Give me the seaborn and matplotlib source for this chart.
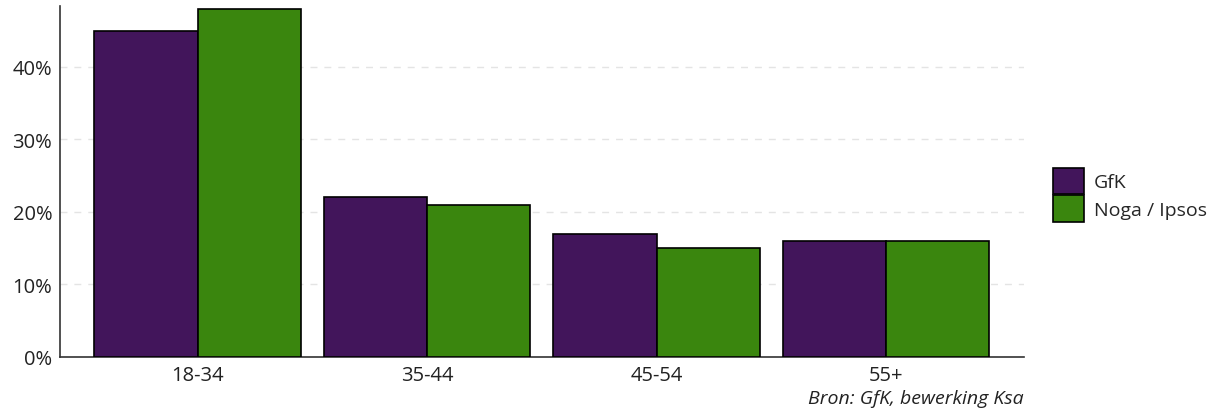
import pandas as pd
import seaborn as sns
import matplotlib.pyplot as plt
from matplotlib.ticker import PercentFormatter

age_groups = ['18-34', '35-44', '45-54', '55+']
gfk = [0.45, 0.22, 0.17, 0.16]
noga_ipsos = [0.48, 0.21, 0.15, 0.16]
series_names = ['GfK', 'Noga / Ipsos']
colors = ['#42155b', '#3a860e']

df = pd.DataFrame({
    'age': age_groups * 2,
    'share': gfk + noga_ipsos,
    'source': [series_names[0]] * 4 + [series_names[1]] * 4,
})

sns.set_style('white')
plt.rcParams['font.family'] = ['Open Sans', 'DejaVu Sans']

fig = plt.figure(figsize=(12.16, 4.10), dpi=100)
ax = fig.add_axes([0.0493, 0.127, 0.7925, 0.856])

sns.barplot(data=df, x='age', y='share', hue='source', palette=colors,
            width=0.9, edgecolor='black', linewidth=1.2, saturation=1,
            ax=ax, zorder=3)

ax.set_xlim(-0.6, 3.6)
ax.set_ylim(0, 0.484)
ax.set_yticks([0, 0.1, 0.2, 0.3, 0.4])
ax.yaxis.set_major_formatter(PercentFormatter(1.0, decimals=0))
ax.grid(axis='y', color='#e4e4e4', linestyle=(0, (5, 5)), linewidth=1, zorder=0)
ax.set_xlabel('')
ax.set_ylabel('')

for side in ['top', 'right']:
    ax.spines[side].set_visible(False)
for side in ['left', 'bottom']:
    ax.spines[side].set_color('#333333')
    ax.spines[side].set_linewidth(1.2)
ax.tick_params(axis='both', direction='out', length=4, width=1, color='#333333',
               labelsize=14.5, labelcolor='#222222', pad=1.5)

ax.legend(title=None, frameon=False, loc='center left',
          bbox_to_anchor=(0.866, 0.522), bbox_transform=fig.transFigure,
          fontsize=14, borderpad=0, borderaxespad=0,
          handlelength=1.6, handleheight=1.75, handletextpad=0.5, labelspacing=0.05)

fig.text(0.842, 0.004, 'Bron: GfK, bewerking Ksa', ha='right', va='bottom',
         style='italic', fontsize=14, color='#222222')

fig.savefig('out.png', dpi=100)
